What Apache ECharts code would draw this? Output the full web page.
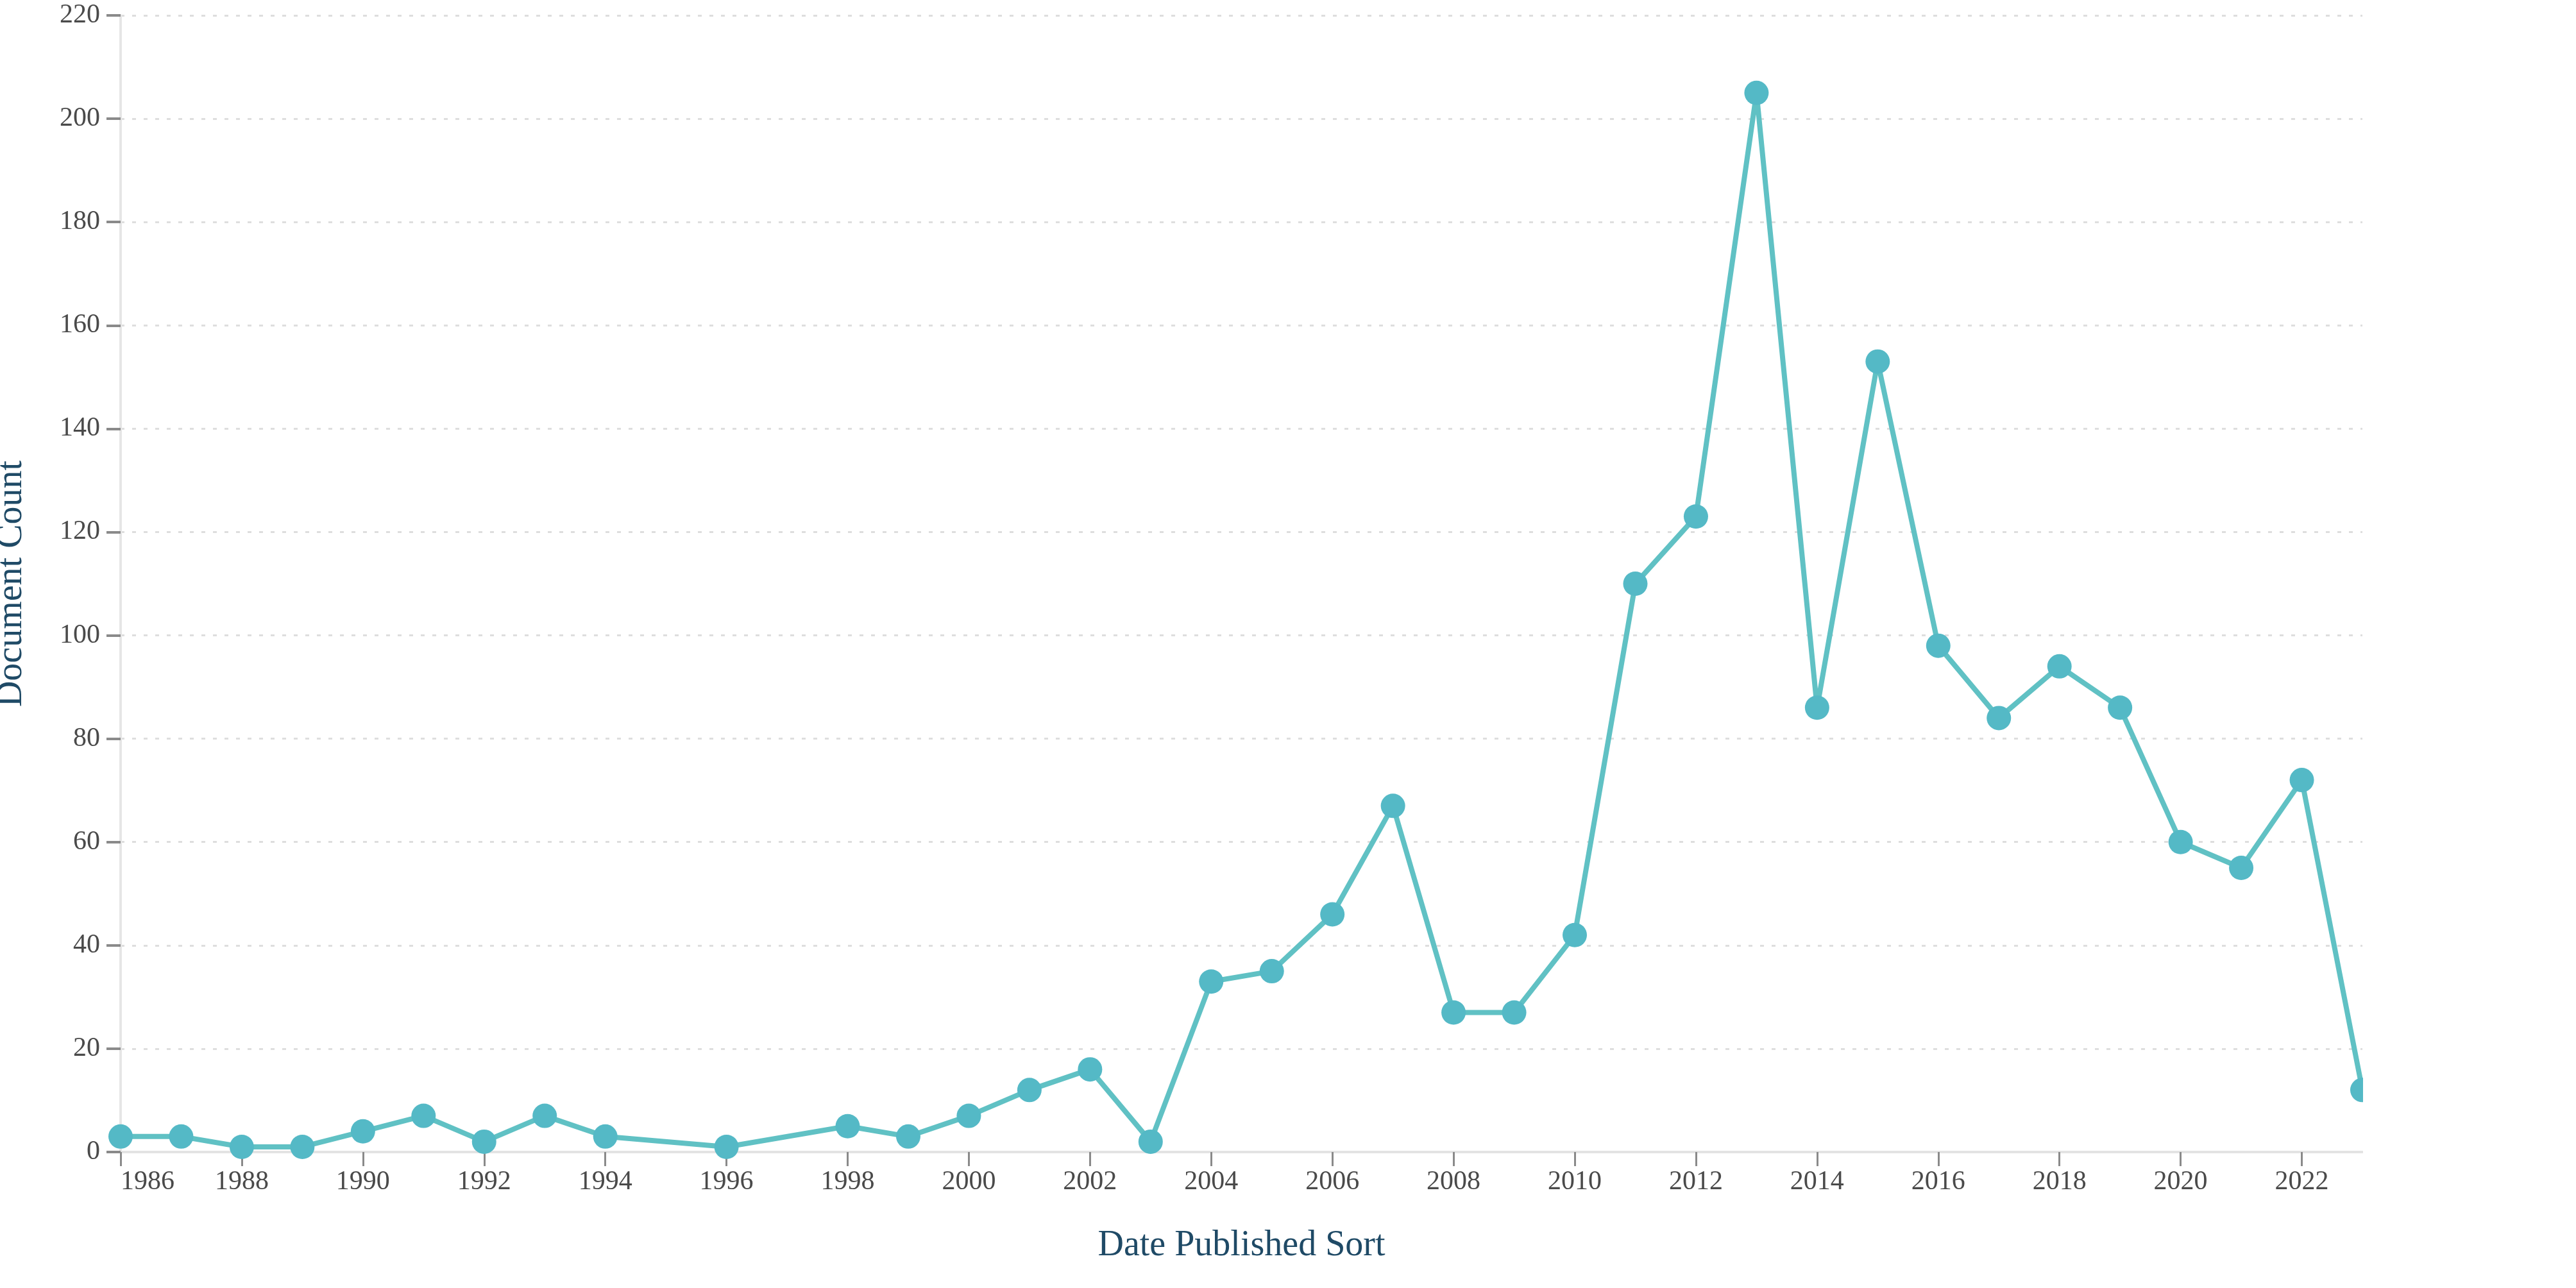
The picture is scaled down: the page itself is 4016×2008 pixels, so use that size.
<!DOCTYPE html>
<html>
<head>
<meta charset="utf-8">
<title>Document Count by Date Published</title>
<script src="https://cdn.jsdelivr.net/npm/echarts@6/dist/echarts.min.js"></script>
<style>
    html, body { margin: 0; padding: 0; background: #fff; }
    #chart { width: 4016px; height: 2008px; }
</style>
</head>
<body>
<div id="chart"></div>
<script>
// publication years that have documents (1995 and 1997 are missing in the source)
var years = [
    1986, 1987, 1988, 1989, 1990, 1991, 1992, 1993, 1994, 1996,
    1998, 1999, 2000, 2001, 2002, 2003, 2004, 2005, 2006, 2007,
    2008, 2009, 2010, 2011, 2012, 2013, 2014, 2015, 2016, 2017,
    2018, 2019, 2020, 2021, 2022, 2023
];
var documentCounts = [
    3, 3, 1, 1, 4, 7, 2, 7, 3, 1,
    5, 3, 7, 12, 16, 2, 33, 35, 46, 67,
    27, 27, 42, 110, 123, 205, 86, 153, 98, 84,
    94, 86, 60, 55, 72, 12
];
var yearTicks = [
    1986, 1988, 1990, 1992, 1994, 1996, 1998, 2000, 2002, 2004,
    2006, 2008, 2010, 2012, 2014, 2016, 2018, 2020, 2022
];

var FONT = '"Liberation Serif", "Times New Roman", serif';
var gridBox = { left: 188, right: 333, top: 24, bottom: 212 };

function getSeriesData() {
    var data = [];
    for (var i = 0; i < years.length; i++) {
        data.push([years[i], documentCounts[i]]);
    }
    return data;
}

var chart = echarts.init(document.getElementById('chart'));

var option = {
    animation: false,
    backgroundColor: '#ffffff',
    grid: {
        left: gridBox.left,
        right: gridBox.right,
        top: gridBox.top,
        bottom: gridBox.bottom,
        containLabel: false,
        outerBoundsMode: 'none'
    },
    xAxis: {
        type: 'value',
        min: 1986,
        max: 2023,
        interval: 2,
        name: 'Date Published Sort',
        nameLocation: 'middle',
        nameGap: 118,
        nameTextStyle: {
            fontFamily: FONT,
            fontSize: 56,
            color: '#1f4a66'
        },
        axisLine: {
            show: true,
            lineStyle: { color: '#e3e3e3', width: 4 }
        },
        axisTick: {
            show: true,
            length: 22,
            customValues: yearTicks,
            lineStyle: { color: '#8a8a8a', width: 3 }
        },
        axisLabel: {
            customValues: yearTicks,
            alignMinLabel: 'left',
            margin: 26,
            fontFamily: FONT,
            fontSize: 42,
            color: '#4a4a4a',
            formatter: function (value) {
                return String(value);
            }
        },
        splitLine: { show: false }
    },
    yAxis: {
        type: 'value',
        min: 0,
        max: 220,
        interval: 20,
        name: 'Document Count',
        nameLocation: 'middle',
        nameGap: 142,
        nameTextStyle: {
            fontFamily: FONT,
            fontSize: 56,
            color: '#1f4a66'
        },
        axisLine: {
            show: true,
            lineStyle: { color: '#e6e6e6', width: 4 }
        },
        axisTick: {
            show: true,
            length: 22,
            lineStyle: { color: '#8a8a8a', width: 4 }
        },
        axisLabel: {
            margin: 32,
            fontFamily: FONT,
            fontSize: 42,
            color: '#4a4a4a'
        },
        splitLine: {
            show: true,
            lineStyle: { color: '#dedede', width: 3, type: [6, 12] }
        }
    },
    series: [
        {
            name: 'Document Count',
            type: 'line',
            data: getSeriesData(),
            symbol: 'circle',
            symbolSize: 38,
            clip: true,
            itemStyle: { color: '#54b9c6' },
            lineStyle: { color: '#60c1c4', width: 8 }
        }
    ],
    // the source chart cuts the last marker at the plot's right edge
    graphic: [
        {
            type: 'rect',
            right: 0,
            top: 0,
            z: 100,
            shape: { width: gridBox.right - 1, height: 1900 },
            style: { fill: '#ffffff' }
        }
    ]
};

chart.setOption(option);
</script>
</body>
</html>
